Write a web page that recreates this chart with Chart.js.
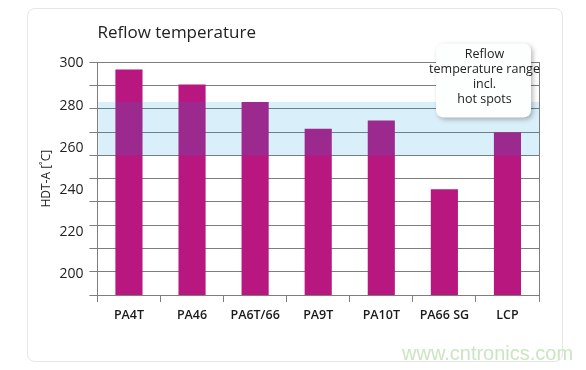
<!DOCTYPE html>
<html>
<head>
<meta charset="utf-8">
<script src="https://cdn.jsdelivr.net/npm/chart.js@4.4.1/dist/chart.umd.min.js"></script>
<style>
  html, body { margin: 0; padding: 0; background: #fff; }
  #wrap { position: relative; width: 586px; height: 370px; }
  #card { position: absolute; left: 27px; top: 8px; width: 536px; height: 354px;
          border: 1px solid #e6e6e6; border-radius: 8px; box-sizing: border-box; }
  #mark { position: absolute; left: 402px; top: 342px; font: 20px "Liberation Sans", Arial, sans-serif;
          color: #c9e6c1; }
  canvas { position: absolute; left: 0; top: 0; }
</style>
</head>
<body>
<div id="wrap">
  <div id="card"></div>
  <canvas id="myChart" width="586" height="370"></canvas>
  <div id="mark">www.cntronics.com</div>
</div>
<script>
const ctx = document.getElementById('myChart').getContext('2d');

// ---------------- data ----------------
const materials = ["PA4T", "PA46", "PA6T/66", "PA9T", "PA10T", "PA66 SG", "LCP"];
const hdtA = [297, 290.5, 283, 271.5, 275, 245.5, 270];
const reflowRange = [260, 283];           // reflow temperature band incl. hot spots
const bandNote = ["Reflow", "temperature range", "incl.", "hot spots"];
const yTickLabels = [200, 220, 240, 260, 280, 300];

const FONT = '"Open Sans", "Noto Sans", sans-serif';
const gridGrey = '#7d7d7d';

// band drawn over the bars (semi transparent, bars turn purple inside it)
const bandPlugin = {
    id: 'reflowBand',
    afterDatasetsDraw(chart) {
        const c = chart.ctx, a = chart.chartArea, y = chart.scales.y;
        const top = y.getPixelForValue(reflowRange[1]);
        const bot = y.getPixelForValue(reflowRange[0]);
        c.save();
        c.fillStyle = 'rgba(0,150,220,0.15)';
        c.fillRect(a.left + 1, top, a.right - a.left - 1, bot - top);
        c.restore();
    },
    afterDraw(chart) {
        // callout box
        const c = chart.ctx, a = chart.chartArea;
        const w = 95, h = 74;
        const x = a.right - 8 - w, yy = a.top - 19;
        c.save();
        c.shadowColor = 'rgba(0,0,0,0.28)';
        c.shadowBlur = 5;
        c.shadowOffsetX = 2;
        c.shadowOffsetY = 2;
        c.fillStyle = '#fdfefe';
        c.beginPath();
        c.roundRect(x, yy, w, h, 7);
        c.fill();
        c.restore();
        c.save();
        c.fillStyle = '#222';
        c.font = '12.5px ' + FONT;
        c.textAlign = 'center';
        c.textBaseline = 'middle';
        bandNote.forEach((t, i) => c.fillText(t, x + w / 2 + 1, yy + 11 + i * 15));
        c.restore();
    }
};

const data = {
    labels: materials,
    datasets: [
    {
        label: 'HDT-A',
        data: hdtA,
        backgroundColor: '#b8177f',
        barPercentage: 0.43,
        categoryPercentage: 1,
        yAxisID: 'y',
    },
    ],
};

const config = {
    type: 'bar',
    data: data,
    plugins: [bandPlugin],
    options: {
        responsive: false,
        animation: false,
        layout: { padding: { left: 39, right: 47, top: 0, bottom: 41 } },
        plugins: {
            legend: { display: false },
            tooltip: { enabled: false },
            title: {
                display: true,
                text: 'Reflow temperature',
                align: 'start',
                fullSize: false,
                color: '#222',
                font: { family: FONT, size: 17, weight: '500' },
                padding: { top: 23, bottom: 19 },
            },
        },
        scales: {
            x: {
                grid: { offset: true, drawOnChartArea: false, drawTicks: true, tickLength: 7, color: gridGrey },
                border: { color: gridGrey },
                ticks: { color: '#1a1a1a', padding: 6, font: { family: FONT, size: 12.5, weight: '600' } },
            },
            y: {
                position: 'left',
                weight: 0,
                min: 200,
                max: 300,
                ticks: { stepSize: 10, display: false },
                grid: { color: gridGrey, tickLength: 8 },
                border: { color: gridGrey },
            },
            yLabels: {
                position: 'left',
                weight: 1,
                min: 190,
                max: 300.5,
                grid: { display: false, drawTicks: false },
                border: { display: false },
                afterBuildTicks(scale) {
                    scale.ticks = yTickLabels.map(v => ({ value: v }));
                },
                ticks: { color: '#222', padding: 6, font: { family: FONT, size: 14 } },
                title: {
                    display: true,
                    text: 'HDT-A [˚C]',
                    color: '#222',
                    font: { family: FONT, size: 12 },
                    padding: { top: 0, bottom: 0 },
                },
            },
            yR: {
                position: 'right',
                min: 200,
                max: 300,
                ticks: { display: false },
                grid: { drawOnChartArea: false, drawTicks: false },
                border: { color: gridGrey },
            },
        },
    },
};

const myChart = new Chart(ctx, config);
</script>
</body>
</html>
